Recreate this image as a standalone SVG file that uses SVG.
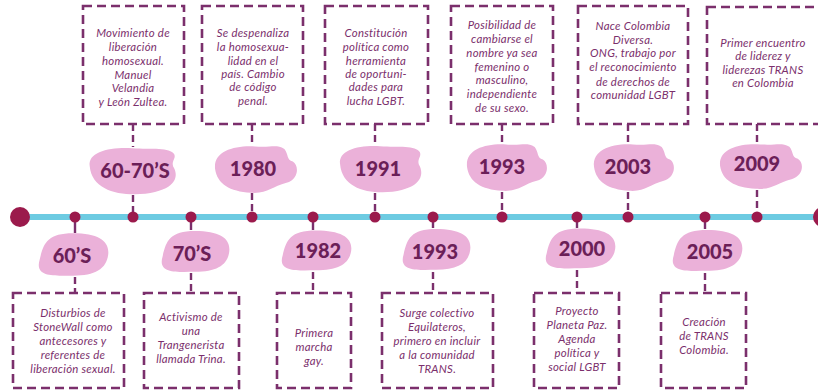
<svg xmlns="http://www.w3.org/2000/svg" xmlns:xlink="http://www.w3.org/1999/xlink" width="818" height="391" viewBox="0 0 818 391">
<style>
.box{fill:none;stroke:#7b2f6c;stroke-width:2.6;stroke-dasharray:9 5}
.t{font-family:Lato,"Open Sans","Liberation Sans",sans-serif;font-style:italic;font-size:11.4px;letter-spacing:0.25px;fill:#7b2f6c;text-anchor:middle}
.yr{font-family:Lato,"Open Sans","Liberation Sans",sans-serif;font-weight:900;font-size:20px;fill:#6b1f58;text-anchor:middle}
.blob{fill:#ebb1d9}
.dash{stroke:#7b2f6c;stroke-width:2.4;stroke-dasharray:7 4;fill:none}
.solid{stroke:#7b2f6c;stroke-width:2.4;fill:none}
.dot{fill:#9b1a4c}
</style>
<defs>
<path id="bA" d="M-0.95,-0.2 C-1,-0.8 -0.5,-1 0,-0.95 C0.45,-0.9 0.85,-1 0.95,-0.7 C1,-0.5 0.85,-0.4 0.95,-0.1 C1.05,0.3 0.95,0.8 0.3,0.95 C-0.3,1.05 -0.9,0.8 -0.95,-0.2 Z"/>
<path id="bB" d="M-0.95,0 C-1,-0.7 -0.5,-0.95 0,-0.9 C0.4,-0.85 0.5,-1 0.7,-0.8 C0.8,-0.6 0.75,-0.35 0.9,-0.3 C1.05,-0.15 1.05,0.4 0.75,0.55 C0.4,0.7 0.3,1 -0.1,0.95 C-0.6,0.9 -0.9,0.6 -0.95,0 Z"/>
<path id="bC" d="M-0.9,0.2 C-0.8,-0.5 -0.7,-0.95 0,-0.95 C0.7,-0.95 1,-0.6 0.95,0 C0.9,0.6 0.6,0.9 0,0.9 C-0.5,0.9 -1.05,1 -0.9,0.2 Z"/>
</defs>

<g id="connectors">
<path class="dash" d="M133,124 V147 M133,195 V217 M252,124 V146 M252,193 V217 M375,124 V146 M375,193 V217 M502,124 V144 M502,192 V217 M628,124 V144 M628,192 V217 M757,124 V144 M757,190 V217"/>
<path class="solid" d="M75,217 V233 M191,217 V230 M313,217 V230 M433,217 V228 M577,217 V228 M705,217 V229"/>
<path class="dash" d="M75,277 V293 M191,273 V293 M313,272 V293 M433,272 V293 M577,270 V293 M705,273 V293"/>
</g>

<g id="timeline">
<line x1="20" y1="217" x2="818" y2="217" stroke="#6dcbe2" stroke-width="6"/>
<circle cx="20" cy="217" r="10" class="dot"/>
<circle cx="823" cy="217" r="10" class="dot"/>
<circle cx="75" cy="217" r="5.5" class="dot"/>
<circle cx="133" cy="217" r="5.5" class="dot"/>
<circle cx="191" cy="217" r="5.5" class="dot"/>
<circle cx="252" cy="217" r="5.5" class="dot"/>
<circle cx="313" cy="217" r="5.5" class="dot"/>
<circle cx="375" cy="217" r="5.5" class="dot"/>
<circle cx="433" cy="217" r="5.5" class="dot"/>
<circle cx="502" cy="217" r="5.5" class="dot"/>
<circle cx="577" cy="217" r="5.5" class="dot"/>
<circle cx="628" cy="217" r="5.5" class="dot"/>
<circle cx="705" cy="217" r="5.5" class="dot"/>
<circle cx="757" cy="217" r="5.5" class="dot"/>
</g>

<g id="u1">
<rect class="box" x="83" y="6" width="101" height="118"/>
<text class="t"><tspan x="133" y="37">Movimiento de</tspan><tspan x="133" y="51">liberación</tspan><tspan x="133" y="65">homosexual.</tspan><tspan x="133" y="79">Manuel</tspan><tspan x="133" y="92">Velandia</tspan><tspan x="133" y="106">y León Zultea.</tspan></text>
<use xlink:href="#bA" class="blob" transform="translate(132,171) scale(44.5,24)"/>
<text class="yr" x="135" y="178">60-70’S</text>
</g>

<g id="u2">
<rect class="box" x="202" y="6" width="101" height="118"/>
<text class="t"><tspan x="253" y="37">Se despenaliza</tspan><tspan x="253" y="51">la homosexua-</tspan><tspan x="253" y="65">lidad en el</tspan><tspan x="253" y="78">país. Cambio</tspan><tspan x="253" y="91">de código</tspan><tspan x="253" y="105">penal.</tspan></text>
<use xlink:href="#bB" class="blob" transform="translate(255,169) scale(42,25)"/>
<text class="yr" x="253" y="176">1980</text>
</g>

<g id="u3">
<rect class="box" x="325" y="6" width="103" height="118"/>
<text class="t"><tspan x="376" y="37">Constitución</tspan><tspan x="376" y="51">política como</tspan><tspan x="376" y="65">herramienta</tspan><tspan x="376" y="78">de oportuni-</tspan><tspan x="376" y="91">dades para</tspan><tspan x="376" y="105">lucha LGBT.</tspan></text>
<use xlink:href="#bA" class="blob" transform="translate(380,169) scale(42,24)"/>
<text class="yr" x="378" y="176">1991</text>
</g>

<g id="u4">
<rect class="box" x="451" y="6" width="102" height="118"/>
<text class="t"><tspan x="502" y="29">Posibilidad de</tspan><tspan x="502" y="43">cambiarse el</tspan><tspan x="502" y="57">nombre ya sea</tspan><tspan x="502" y="71">femenino o</tspan><tspan x="502" y="84">masculino,</tspan><tspan x="502" y="98">independiente</tspan><tspan x="502" y="112">de su sexo.</tspan></text>
<use xlink:href="#bB" class="blob" transform="translate(506,167) scale(41,25)"/>
<text class="yr" x="502" y="174">1993</text>
</g>

<g id="u5">
<rect class="box" x="578" y="6" width="110" height="118"/>
<text class="t"><tspan x="633" y="30">Nace Colombia</tspan><tspan x="633" y="44">Diversa.</tspan><tspan x="633" y="57">ONG, trabajo por</tspan><tspan x="633" y="71">el reconocimiento</tspan><tspan x="633" y="86">de derechos de</tspan><tspan x="633" y="99">comunidad LGBT</tspan></text>
<use xlink:href="#bB" class="blob" transform="translate(633,167) scale(41,25)"/>
<text class="yr" x="628" y="174">2003</text>
</g>

<g id="u6">
<rect class="box" x="707" y="7" width="125" height="117"/>
<text class="t"><tspan x="763" y="47">Primer encuentro</tspan><tspan x="763" y="60">de liderez y</tspan><tspan x="763" y="74">liderezas TRANS</tspan><tspan x="763" y="87">en Colombia</tspan></text>
<use xlink:href="#bB" class="blob" transform="translate(760,166) scale(42,24)"/>
<text class="yr" x="757" y="171">2009</text>
</g>

<g id="l1">
<use xlink:href="#bC" class="blob" transform="translate(73,255) scale(37,23)"/>
<text class="yr" x="72" y="263">60’S</text>
<rect class="box" x="13" y="293" width="111" height="95"/>
<text class="t"><tspan x="73" y="317">Disturbios de</tspan><tspan x="73" y="331">StoneWall como</tspan><tspan x="73" y="345">antecesores y</tspan><tspan x="73" y="359">referentes de</tspan><tspan x="73" y="373">liberación sexual.</tspan></text>
</g>

<g id="l2">
<use xlink:href="#bC" class="blob" transform="translate(195,252) scale(36,22)"/>
<text class="yr" x="192" y="261">70’S</text>
<rect class="box" x="144" y="293" width="95" height="95"/>
<text class="t"><tspan x="191" y="321">Activismo de</tspan><tspan x="191" y="335">una</tspan><tspan x="191" y="349">Trangenerista</tspan><tspan x="191" y="363">llamada Trina.</tspan></text>
</g>

<g id="l3">
<use xlink:href="#bC" class="blob" transform="translate(316,251) scale(37,21.5)"/>
<text class="yr" x="318" y="258">1982</text>
<rect class="box" x="277" y="293" width="74" height="95"/>
<text class="t"><tspan x="314" y="337">Primera</tspan><tspan x="314" y="351">marcha</tspan><tspan x="314" y="365">gay.</tspan></text>
</g>

<g id="l4">
<use xlink:href="#bC" class="blob" transform="translate(436,250) scale(36,22)"/>
<text class="yr" x="435" y="259">1993</text>
<rect class="box" x="382" y="293" width="111" height="95"/>
<text class="t"><tspan x="437" y="317">Surge colectivo</tspan><tspan x="437" y="331">Equilateros,</tspan><tspan x="437" y="345">primero en incluir</tspan><tspan x="437" y="359">a la comunidad</tspan><tspan x="437" y="373">TRANS.</tspan></text>
</g>

<g id="l5">
<use xlink:href="#bC" class="blob" transform="translate(580,249) scale(37,21.5)"/>
<text class="yr" x="582" y="256">2000</text>
<rect class="box" x="534" y="293" width="85" height="95"/>
<text class="t"><tspan x="577" y="315">Proyecto</tspan><tspan x="577" y="329">Planeta Paz.</tspan><tspan x="577" y="343">Agenda</tspan><tspan x="577" y="357">política y</tspan><tspan x="577" y="371">social LGBT</tspan></text>
</g>

<g id="l6">
<use xlink:href="#bC" class="blob" transform="translate(707,251) scale(37,22)"/>
<text class="yr" x="710" y="259">2005</text>
<rect class="box" x="661" y="293" width="85" height="95"/>
<text class="t"><tspan x="704" y="326">Creación</tspan><tspan x="704" y="340">de TRANS</tspan><tspan x="704" y="354">Colombia.</tspan></text>
</g>
</svg>
